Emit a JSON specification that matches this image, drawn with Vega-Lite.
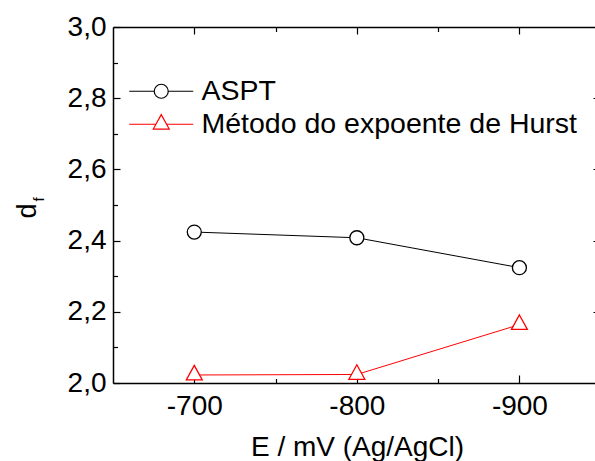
{
  "$schema": "https://vega.github.io/schema/vega-lite/v6.json",
  "width": 482,
  "height": 356,
  "autosize": {"type": "none"},
  "padding": {"left": 113, "top": 27, "right": 0, "bottom": 78},
  "background": "white",
  "data": {
    "values": [
      {"E": -700, "df": 2.424, "series": "ASPT"},
      {"E": -800, "df": 2.408, "series": "ASPT"},
      {"E": -900, "df": 2.324, "series": "ASPT"},
      {"E": -700, "df": 2.0225, "series": "Método do expoente de Hurst"},
      {"E": -800, "df": 2.024, "series": "Método do expoente de Hurst"},
      {"E": -900, "df": 2.164, "series": "Método do expoente de Hurst"}
    ]
  },
  "resolve": {"axis": {"x": "independent", "y": "independent"}},
  "layer": [
    {
      "transform": [{"filter": "datum.series === 'ASPT'"}],
      "mark": {"type": "line", "strokeWidth": 1, "color": "#000000"},
      "encoding": {
        "x": {
          "field": "E", "type": "quantitative",
          "scale": {"domain": [-650, -946.5], "nice": false, "zero": false},
          "axis": {"orient": "bottom", "values": [-700, -800, -900], "labelExpr": "'' + datum.value", "tickSize": -8, "labelPadding": 17, "labelFontSize": 28, "domain": true, "title": "E / mV (Ag/AgCl)", "titleFontSize": 28, "titleX": 244, "titleY": 72, "titleBaseline": "alphabetic", "titleAlign": "center"}
        },
        "y": {
          "field": "df", "type": "quantitative",
          "scale": {"domain": [2, 3], "nice": false, "zero": false},
          "axis": {"orient": "left", "values": [2, 2.2, 2.4, 2.6, 2.8, 3], "labelExpr": "replace(format(datum.value, '.1f'), '.', ',')", "tickSize": -7, "labelPadding": 14, "labelFontSize": 28, "domain": true, "title": "d", "titleFontSize": 27, "titleX": -78, "titleY": 183.5, "titleAngle": 270, "titleBaseline": "alphabetic", "titleAlign": "center"}
        }
      }
    },
    {
      "transform": [{"filter": "datum.series !== 'ASPT'"}],
      "mark": {"type": "line", "strokeWidth": 1, "color": "#ff0000"},
      "encoding": {
        "x": {"field": "E", "type": "quantitative", "axis": null},
        "y": {"field": "df", "type": "quantitative", "axis": null}
      }
    },
    {
      "transform": [{"filter": "datum.series === 'ASPT'"}],
      "mark": {"type": "point", "shape": "circle", "size": 196, "filled": true, "fill": "white", "stroke": "black", "strokeWidth": 1.3, "opacity": 1},
      "encoding": {
        "x": {
          "field": "E", "type": "quantitative",
          "axis": {"orient": "bottom", "values": [-750, -850], "labels": false, "domain": false, "tickSize": -4.5, "title": null}
        },
        "y": {
          "field": "df", "type": "quantitative",
          "axis": {"orient": "left", "values": [2.1, 2.3, 2.5, 2.7, 2.9], "labels": false, "domain": false, "tickSize": -4.5, "title": "f", "titleFontSize": 15, "titleX": -70, "titleY": 172, "titleAngle": 270, "titleBaseline": "alphabetic", "titleAlign": "center"}
        }
      }
    },
    {
      "transform": [{"filter": "datum.series !== 'ASPT'"}],
      "mark": {"type": "point", "shape": "M0,-1.38L1.14,0.69L-1.14,0.69Z", "size": 196, "filled": true, "fill": "white", "stroke": "#ff0000", "strokeWidth": 1.3, "opacity": 1},
      "encoding": {
        "x": {
          "field": "E", "type": "quantitative",
          "axis": {"orient": "top", "values": [-700, -800, -900], "labels": false, "domain": true, "tickSize": -7, "title": null}
        },
        "y": {
          "field": "df", "type": "quantitative",
          "axis": {"orient": "right", "values": [2.2, 2.4, 2.6, 2.8], "labels": false, "domain": false, "tickSize": -2, "title": null}
        }
      }
    },
    {
      "mark": {"type": "point", "size": 196, "filled": false, "strokeWidth": 1.2, "opacity": 0},
      "encoding": {
        "x": {
          "field": "E", "type": "quantitative",
          "axis": {"orient": "top", "values": [-750, -850], "labels": false, "domain": false, "tickSize": -4.5, "title": null}
        },
        "y": {"field": "df", "type": "quantitative", "axis": null},
        "color": {
          "field": "series", "type": "nominal",
          "scale": {"domain": ["ASPT", "Método do expoente de Hurst"], "range": ["#000000", "#ff0000"]},
          "legend": {"orient": "none", "legendX": 34, "legendY": 50, "title": null, "labelFont": "Liberation Sans", "labelFontSize": 28.5, "labelColor": "black", "labelOffset": 26, "symbolSize": 196, "symbolStrokeWidth": 1.2, "symbolOpacity": 1, "rowPadding": 4, "padding": 0, "labelLimit": 600}
        },
        "shape": {
          "field": "series", "type": "nominal",
          "scale": {"domain": ["ASPT", "Método do expoente de Hurst"], "range": ["M-4.57,0H-1M1,0H4.57M-1,0A1,1,0,1,1,1,0A1,1,0,1,1,-1,0Z", "M-4.57,0H-0.76M0.76,0H4.57M0,-1.38L1.14,0.69L-1.14,0.69Z"]},
          "legend": {"orient": "none", "legendX": 34, "legendY": 50, "title": null, "labelFont": "Liberation Sans", "labelFontSize": 28.5, "labelColor": "black", "labelOffset": 26, "symbolSize": 196, "symbolStrokeWidth": 1.2, "symbolOpacity": 1, "rowPadding": 4, "padding": 0, "labelLimit": 600}
        }
      }
    }
  ],
  "config": {
    "view": {"stroke": null},
    "axis": {"domainColor": "black", "tickColor": "black", "labelColor": "black", "titleColor": "black", "labelFont": "Liberation Sans", "titleFont": "Liberation Sans", "grid": false, "domainWidth": 1.5, "tickWidth": 1.2, "labelFlush": false, "labelOverlap": false, "titleFontWeight": "normal"}
  }
}
